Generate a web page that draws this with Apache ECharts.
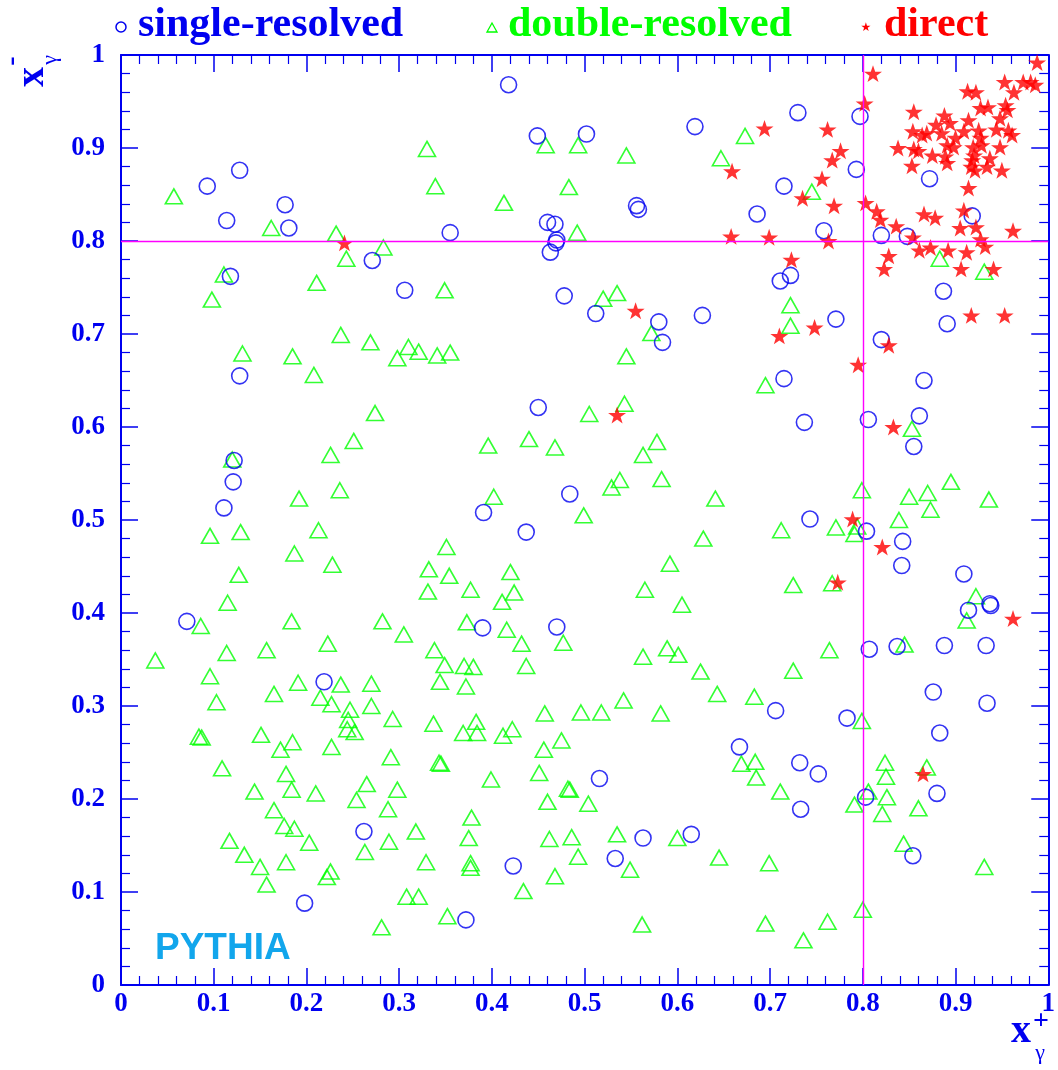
<!DOCTYPE html>
<html>
<head>
<meta charset="utf-8">
<script src="https://cdn.jsdelivr.net/npm/echarts@6.0.0/dist/echarts.min.js"></script>
<style>html,body{margin:0;padding:0;background:#fff}#c{width:1058px;height:1070px}</style>
</head>
<body>
<div id="c"></div>
<script>
// ---- data (x_gamma^+, x_gamma^-) ----
const seriesNames = ['single-resolved', 'double-resolved', 'direct'];
const xTickLabels = ['0','0.1','0.2','0.3','0.4','0.5','0.6','0.7','0.8','0.9','1'];
const yTickLabels = ['0','0.1','0.2','0.3','0.4','0.5','0.6','0.7','0.8','0.9','1'];
const cutX = 0.8;
const cutY = 0.8;

const singleResolved = [
[0.093,0.859],[0.128,0.876],[0.114,0.822],[0.177,0.839],[0.181,0.814],[0.118,0.762],[0.271,0.779],[0.306,0.747],
[0.418,0.968],[0.449,0.913],[0.502,0.915],[0.619,0.923],[0.556,0.838],[0.558,0.834],[0.460,0.820],[0.468,0.818],
[0.470,0.801],[0.469,0.798],[0.463,0.788],[0.355,0.809],[0.478,0.741],[0.512,0.722],[0.580,0.713],[0.584,0.691],[0.627,0.720],
[0.730,0.938],[0.797,0.934],[0.793,0.877],[0.872,0.867],[0.715,0.859],[0.686,0.829],[0.758,0.811],[0.820,0.806],
[0.848,0.805],[0.918,0.827],[0.722,0.763],[0.711,0.757],[0.887,0.746],[0.771,0.716],[0.891,0.711],[0.820,0.694],
[0.715,0.652],[0.866,0.650],[0.737,0.605],[0.806,0.608],[0.861,0.612],[0.855,0.579],[0.743,0.501],[0.804,0.488],
[0.843,0.477],[0.842,0.451],[0.909,0.442],[0.914,0.403],[0.937,0.410],[0.938,0.408],[0.807,0.361],[0.837,0.364],
[0.888,0.365],[0.933,0.365],
[0.450,0.621],[0.484,0.528],[0.391,0.508],[0.437,0.487],[0.390,0.384],[0.470,0.385],
[0.128,0.655],[0.122,0.564],[0.121,0.541],[0.111,0.513],[0.071,0.391],
[0.219,0.326],[0.262,0.165],[0.198,0.088],
[0.516,0.222],[0.563,0.158],[0.533,0.136],[0.615,0.162],[0.423,0.128],[0.372,0.070],
[0.876,0.315],[0.934,0.303],[0.706,0.295],[0.783,0.287],[0.883,0.271],[0.667,0.256],[0.732,0.239],[0.752,0.227],
[0.803,0.202],[0.880,0.206],[0.733,0.189],[0.854,0.139]
];

const doubleResolved = [
[0.057,0.848],[0.162,0.814],[0.232,0.808],[0.243,0.781],[0.283,0.793],[0.111,0.764],[0.098,0.737],[0.211,0.755],
[0.237,0.699],[0.269,0.691],[0.131,0.679],[0.185,0.676],[0.298,0.674],[0.310,0.686],[0.321,0.681],[0.330,0.899],[0.339,0.859],
[0.458,0.903],[0.493,0.903],[0.545,0.892],[0.647,0.889],[0.483,0.858],[0.413,0.841],[0.492,0.809],[0.349,0.747],
[0.520,0.738],[0.535,0.744],[0.572,0.701],[0.341,0.677],[0.355,0.680],[0.545,0.676],
[0.673,0.913],[0.745,0.853],[0.883,0.781],[0.931,0.767],[0.722,0.731],[0.722,0.709],
[0.695,0.645],[0.853,0.598],[0.799,0.532],[0.850,0.525],[0.870,0.529],[0.895,0.541],[0.936,0.522],[0.873,0.511],
[0.839,0.500],[0.712,0.489],[0.771,0.492],[0.794,0.493],[0.791,0.485],[0.725,0.430],[0.767,0.432],[0.922,0.418],
[0.912,0.392],[0.845,0.366],[0.764,0.360],[0.725,0.338],
[0.505,0.614],[0.543,0.625],[0.396,0.580],[0.440,0.587],[0.468,0.578],[0.563,0.570],[0.578,0.584],[0.538,0.543],
[0.529,0.535],[0.583,0.544],[0.402,0.525],[0.499,0.505],[0.641,0.523],[0.628,0.480],[0.351,0.471],[0.332,0.447],
[0.354,0.440],[0.331,0.423],[0.377,0.425],[0.420,0.444],[0.424,0.422],[0.411,0.412],[0.373,0.390],[0.416,0.382],
[0.432,0.367],[0.477,0.368],[0.565,0.425],[0.592,0.453],[0.605,0.409],[0.338,0.360],[0.349,0.344],[0.370,0.343],
[0.380,0.342],[0.437,0.343],[0.563,0.353],[0.589,0.362],[0.601,0.355],[0.625,0.337],
[0.208,0.656],[0.274,0.615],[0.251,0.585],[0.226,0.570],[0.120,0.565],[0.236,0.532],[0.192,0.523],[0.096,0.483],
[0.129,0.487],[0.213,0.489],[0.187,0.464],[0.228,0.452],[0.127,0.441],[0.115,0.411],[0.086,0.386],[0.184,0.391],
[0.282,0.391],[0.305,0.377],[0.037,0.349],[0.114,0.357],[0.157,0.360],[0.223,0.367],
[0.096,0.332],[0.191,0.325],[0.237,0.323],[0.270,0.324],[0.165,0.313],[0.103,0.304],[0.215,0.309],[0.227,0.302],
[0.247,0.296],[0.245,0.285],[0.244,0.275],[0.252,0.272],[0.270,0.300],[0.293,0.286],[0.337,0.281],[0.084,0.267],
[0.087,0.266],[0.151,0.269],[0.185,0.261],[0.172,0.253],[0.227,0.256],[0.291,0.245],[0.109,0.233],[0.178,0.227],
[0.184,0.210],[0.144,0.208],[0.210,0.206],[0.265,0.216],[0.254,0.199],[0.298,0.210],[0.288,0.189],[0.165,0.188],
[0.176,0.171],[0.187,0.168],[0.203,0.153],[0.117,0.155],[0.133,0.140],[0.150,0.127],[0.178,0.132],[0.226,0.122],
[0.222,0.116],[0.157,0.108],[0.263,0.143],[0.289,0.154],[0.318,0.165],[0.329,0.132],[0.308,0.095],[0.321,0.095],[0.281,0.062],
[0.344,0.326],[0.372,0.321],[0.643,0.313],[0.542,0.306],[0.457,0.292],[0.496,0.293],[0.518,0.293],[0.582,0.292],
[0.383,0.283],[0.369,0.271],[0.384,0.271],[0.412,0.268],[0.422,0.275],[0.475,0.263],[0.456,0.253],[0.343,0.239],
[0.345,0.238],[0.399,0.221],[0.451,0.228],[0.482,0.211],[0.484,0.210],[0.460,0.197],[0.504,0.195],[0.378,0.180],
[0.375,0.158],[0.462,0.157],[0.486,0.159],[0.535,0.162],[0.600,0.158],[0.377,0.131],[0.377,0.126],[0.493,0.138],
[0.549,0.124],[0.645,0.137],[0.468,0.117],[0.434,0.101],[0.352,0.074],[0.562,0.065],
[0.683,0.310],[0.799,0.284],[0.669,0.238],[0.684,0.240],[0.685,0.223],[0.711,0.208],[0.824,0.239],[0.825,0.224],
[0.869,0.234],[0.806,0.208],[0.826,0.202],[0.791,0.194],[0.821,0.184],[0.860,0.190],[0.844,0.152],[0.699,0.131],
[0.931,0.127],[0.800,0.081],[0.695,0.066],[0.762,0.068],[0.736,0.048]
];

const direct = [
[0.241,0.798],[0.659,0.875],[0.658,0.805],[0.555,0.725],[0.535,0.613],
[0.988,0.992],[0.811,0.980],[0.802,0.948],[0.694,0.921],[0.762,0.920],[0.776,0.897],[0.767,0.887],[0.756,0.867],
[0.735,0.846],[0.769,0.838],[0.803,0.841],[0.815,0.832],[0.819,0.823],[0.836,0.816],[0.854,0.804],[0.763,0.800],
[0.699,0.804],[0.723,0.780],[0.828,0.784],[0.823,0.770],[0.861,0.790],[0.873,0.793],[0.892,0.790],[0.912,0.788],
[0.906,0.770],[0.927,0.802],[0.932,0.794],[0.941,0.770],[0.962,0.811],[0.905,0.814],[0.922,0.815],[0.909,0.833],
[0.866,0.829],[0.878,0.825],[0.914,0.857],[0.917,0.720],[0.953,0.720],[0.710,0.698],[0.748,0.707],[0.828,0.688],[0.795,0.667],
[0.855,0.939],[0.888,0.935],[0.913,0.961],[0.922,0.960],[0.953,0.971],[0.973,0.971],[0.981,0.971],[0.986,0.968],
[0.963,0.960],[0.927,0.943],[0.935,0.944],[0.954,0.946],[0.956,0.941],[0.948,0.932],[0.914,0.930],[0.879,0.925],
[0.894,0.927],[0.854,0.918],[0.864,0.914],[0.869,0.916],[0.885,0.916],[0.900,0.911],[0.909,0.918],[0.925,0.919],
[0.944,0.920],[0.957,0.919],[0.961,0.914],[0.927,0.911],[0.891,0.903],[0.898,0.901],[0.919,0.901],[0.928,0.903],
[0.948,0.901],[0.838,0.900],[0.855,0.899],[0.860,0.897],[0.875,0.892],[0.889,0.891],[0.891,0.884],[0.853,0.881],
[0.918,0.887],[0.917,0.880],[0.921,0.876],[0.934,0.880],[0.937,0.889],[0.950,0.876],[0.920,0.892],
[0.833,0.600],[0.789,0.501],[0.821,0.471],[0.773,0.433],[0.962,0.394],
[0.865,0.227]
];

// ---- styling ----
const BLUE = '#0000f0';
const GREEN = '#00ff00';
const RED = '#ff0000';
const MAGENTA = '#ff00ff';
const SERIF = '"Liberation Serif", "Times New Roman", serif';
const STAR = 'path://M50,0 L61.8,35.1 L98.1,35.1 L68.8,56.7 L79.4,90.5 L50,69.5 L20.6,90.5 L31.2,56.7 L1.9,35.1 L38.2,35.1 Z';

function mkAxis(kind, pos, showLabel, labels) {
  return {
    type: 'value', min: 0, max: 1, interval: 0.1, position: pos,
    axisLine: { show: true, onZero: false, lineStyle: { color: BLUE, width: 2 } },
    axisTick: { show: true, inside: true, length: 17, lineStyle: { color: BLUE, width: 1.5 } },
    minorTick: { show: true, splitNumber: 5, length: 9, lineStyle: { color: BLUE, width: 1.2 } },
    splitLine: { show: false },
    minorSplitLine: { show: false },
    axisLabel: {
      show: showLabel,
      color: BLUE, fontFamily: SERIF, fontWeight: 'bold', fontSize: 27,
      margin: kind === 'x' ? 6 : 16,
      formatter: function (v) { return labels[Math.round(v * 10)]; }
    }
  };
}

const chart = echarts.init(document.getElementById('c'), null, { renderer: 'canvas' });
chart.setOption({
  animation: false,
  backgroundColor: '#fff',
  grid: { left: 121, right: 5, top: 55, bottom: 85, containLabel: false },
  xAxis: [mkAxis('x', 'bottom', true, xTickLabels), mkAxis('x', 'top', false, xTickLabels)],
  yAxis: [mkAxis('y', 'left', true, yTickLabels), mkAxis('y', 'right', false, yTickLabels)],
  series: [
    {
      name: seriesNames[1], type: 'scatter', data: doubleResolved,
      symbol: 'triangle', symbolSize: [17, 15], silent: true,
      itemStyle: { color: 'rgba(0,0,0,0)', borderColor: GREEN, borderWidth: 1.6 },
      markLine: {
        silent: true, symbol: 'none', animation: false,
        label: { show: false },
        lineStyle: { color: MAGENTA, width: 1.4, type: 'solid' },
        data: [{ xAxis: cutX }, { yAxis: cutY }]
      }
    },
    {
      name: seriesNames[0], type: 'scatter', data: singleResolved,
      symbol: 'circle', symbolSize: 16, silent: true,
      itemStyle: { color: 'rgba(0,0,0,0)', borderColor: BLUE, borderWidth: 1.6 }
    },
    {
      name: seriesNames[2], type: 'scatter', data: direct,
      symbol: STAR, symbolSize: 18, symbolKeepAspect: true, silent: true,
      itemStyle: { color: RED }
    }
  ],
  graphic: [
    // legend
    { type: 'circle', shape: { cx: 121, cy: 27, r: 5 }, style: { fill: 'none', stroke: BLUE, lineWidth: 1.5 } },
    { type: 'text', style: { x: 138, y: 25, text: seriesNames[0], fill: BLUE, font: 'bold 42px ' + SERIF, verticalAlign: 'middle', align: 'left' } },
    { type: 'polygon', shape: { points: [[492, 23], [487, 32], [497, 32]] }, style: { fill: 'none', stroke: GREEN, lineWidth: 1.3 } },
    { type: 'text', style: { x: 508, y: 25, text: seriesNames[1], fill: GREEN, font: 'bold 42px ' + SERIF, verticalAlign: 'middle', align: 'left' } },
    { type: 'text', style: { x: 866, y: 28, text: '\u2605', fill: RED, font: '12px "DejaVu Sans"', verticalAlign: 'middle', align: 'center' } },
    { type: 'text', style: { x: 884, y: 25, text: seriesNames[2], fill: RED, font: 'bold 42px ' + SERIF, verticalAlign: 'middle', align: 'left' } },
    // PYTHIA
    { type: 'text', style: { x: 155, y: 949, text: 'PYTHIA', fill: '#12a6ec', font: 'bold 37px "Liberation Sans", Arial, sans-serif', verticalAlign: 'middle', align: 'left' } },
    // x title  x_gamma^+
    { type: 'text', style: { x: 1021, y: 1032, text: 'x', fill: BLUE, font: 'bold 40px ' + SERIF, verticalAlign: 'middle', align: 'center' } },
    { type: 'text', style: { x: 1040, y: 1053, text: '\u03b3', fill: BLUE, font: '22px ' + SERIF, verticalAlign: 'middle', align: 'center' } },
    { type: 'text', style: { x: 1041, y: 1022, text: '+', fill: BLUE, font: 'bold 28px ' + SERIF, verticalAlign: 'middle', align: 'center' } },
    // y title  x_gamma^- (rotated)
    { type: 'text', x: 33, y: 77, rotation: Math.PI / 2, style: { x: 0, y: 0, text: 'x', fill: BLUE, font: 'bold 40px ' + SERIF, verticalAlign: 'middle', align: 'center' } },
    { type: 'text', x: 50, y: 60, rotation: Math.PI / 2, style: { x: 0, y: 0, text: '\u03b3', fill: BLUE, font: '22px ' + SERIF, verticalAlign: 'middle', align: 'center' } },
    { type: 'text', x: 12, y: 61, rotation: Math.PI / 2, style: { x: 0, y: 0, text: '-', fill: BLUE, font: 'bold 28px ' + SERIF, verticalAlign: 'middle', align: 'center' } }
  ]
});
</script>
</body>
</html>
